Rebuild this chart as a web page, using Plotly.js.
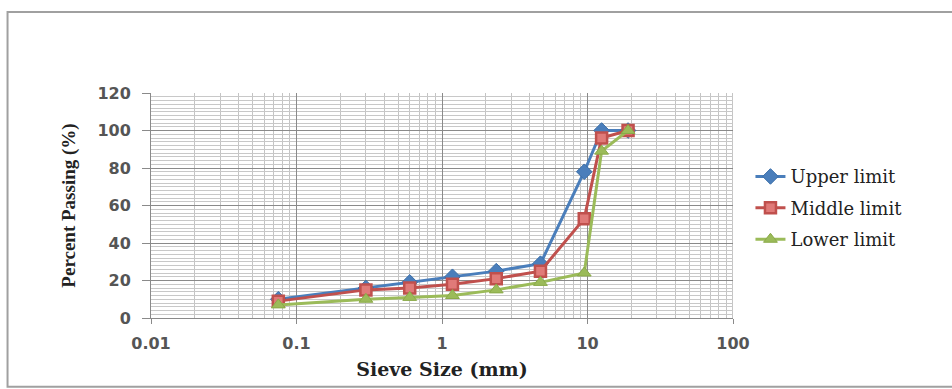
<!DOCTYPE html>
<html>
<head>
<meta charset="utf-8">
<script src="https://cdn.plot.ly/plotly-3.0.1.min.js"></script>
<style>html,body{margin:0;padding:0;background:#fff;}#chart{width:952px;height:389px;}</style>
</head>
<body>
<div id="chart"></div>
<script>
const sieveSizes = [0.075, 0.3, 0.6, 1.18, 2.36, 4.75, 9.5, 12.5, 19];
const upperLimit = [10, 16, 19, 22, 25, 29, 78, 100, 100];
const middleLimit = [9, 15, 16, 18, 21, 25, 53, 96, 100];
const lowerLimit = [7, 10, 11, 12, 15, 19, 24, 89, 100];
const seriesNames = ['Upper limit', 'Middle limit', 'Lower limit'];
const xTickVals = [0.01, 0.1, 1, 10, 100];
const xTickText = ['0.01', '0.1', '1', '10', '100'];
const yTickVals = [0, 20, 40, 60, 80, 100, 120];

const serif = '"Liberation Serif", "DejaVu Serif", serif';
const wideSerif = '"DejaVu Serif", serif';
const sans = '"DejaVu Sans", sans-serif';

const traces = [
  {x: sieveSizes, y: upperLimit, name: seriesNames[0], legendgroup: 'a', type: 'scatter', mode: 'lines+markers',
   line: {color: '#4A7EBB', width: 3}, marker: {symbol: 'diamond', size: 12, color: '#4A7EBB', line: {color: '#3A6EA8', width: 1}}},
  {x: sieveSizes, y: middleLimit, name: seriesNames[1], legendgroup: 'b', type: 'scatter', mode: 'lines+markers',
   line: {color: '#C0504D', width: 3}, marker: {symbol: 'square', size: 11, color: '#E07A78', line: {color: '#C0504D', width: 2.5}}},
  {x: sieveSizes, y: lowerLimit, name: seriesNames[2], legendgroup: 'c', type: 'scatter', mode: 'lines+markers',
   line: {color: '#9BBB59', width: 3}, marker: {symbol: 'triangle-up', size: 12, color: '#9BBB59', line: {color: '#8AAA48', width: 1}}}
];

const layout = {
  width: 952, height: 389,
  margin: {l: 151, r: 219, t: 93, b: 71},
  paper_bgcolor: '#ffffff', plot_bgcolor: '#ffffff',
  showlegend: true,
  legend: {x: 1.03, y: 0.71, xanchor: 'left', yanchor: 'top', traceorder: 'grouped', tracegroupgap: 5,
    font: {family: wideSerif, size: 18, color: '#222'}, bgcolor: 'rgba(0,0,0,0)'},
  xaxis: {
    type: 'log', range: [-2, 2], tickvals: xTickVals, ticktext: xTickText,
    showgrid: true, gridcolor: '#8a8a8a', gridwidth: 1,
    minor: {dtick: 'D1', showgrid: true, gridcolor: '#c4c4c4', gridwidth: 1, ticks: ''},
    ticks: 'outside', ticklen: 5, tickcolor: '#8a8a8a',
    showline: true, linecolor: '#8a8a8a', linewidth: 1, mirror: false, zeroline: false,
    tickfont: {family: sans, size: 16, color: '#555', weight: 'bold'},
    ticklabelstandoff: 6,
    title: {text: '<b>Sieve Size (mm)</b>', font: {family: wideSerif, size: 19, color: '#222'}, standoff: 10}
  },
  yaxis: {
    range: [0, 120], tickvals: yTickVals,
    showgrid: true, gridcolor: '#8a8a8a', gridwidth: 1,
    minor: {dtick: 2, showgrid: true, gridcolor: '#c8c8c8', gridwidth: 1, ticks: ''},
    ticks: 'outside', ticklen: 8, tickcolor: '#8a8a8a',
    showline: true, linecolor: '#8a8a8a', linewidth: 1, zeroline: false,
    tickfont: {family: sans, size: 16, color: '#555', weight: 'bold'},
    ticklabelstandoff: 8,
    title: {text: '<b>Percent Passing (%)</b>', font: {family: serif, size: 19, color: '#222'}, standoff: 16}
  },
  shapes: [
    {type: 'line', xref: 'x', yref: 'y', x0: 100, x1: 100, y0: 0, y1: 120, line: {color: '#8a8a8a', width: 1}, layer: 'below'},
    {type: 'rect', xref: 'paper', yref: 'paper', x0: -0.2465, x1: 1.45, y0: -0.305, y1: 1.3595,
     line: {color: '#a0a0a0', width: 2}, fillcolor: 'rgba(0,0,0,0)', layer: 'below'}
  ]
};

Plotly.newPlot('chart', traces, layout, {displayModeBar: false, staticPlot: true});
</script>
</body>
</html>
